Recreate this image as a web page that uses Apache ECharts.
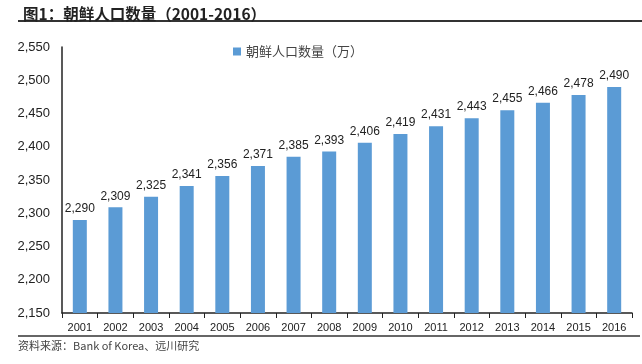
<!DOCTYPE html>
<html><head><meta charset="utf-8">
<script src="https://cdn.jsdelivr.net/npm/echarts@6/dist/echarts.min.js"></script>
<style>html,body{margin:0;padding:0;background:#fff}#c{width:642px;height:364px}</style>
</head><body><div id="c"></div>
<script>
const categories = ['2001','2002','2003','2004','2005','2006','2007','2008','2009','2010','2011','2012','2013','2014','2015','2016'];
const population = [2290,2309,2325,2341,2356,2371,2385,2393,2406,2419,2431,2443,2455,2466,2478,2490];
const seriesName = '朝鲜人口数量（万）';
const titleText = '图1：朝鲜人口数量（2001-2016）';
const sourceText = '资料来源：Bank of Korea、远川研究';

const chart = echarts.init(document.getElementById('c'));
const fmt = v => v.toLocaleString('en-US');
chart.setOption({
  animation:false,
  textStyle:{fontFamily:'"Noto Sans CJK SC", "Liberation Sans", sans-serif'},
  title:{text:titleText,left:18,top:1,textStyle:{fontSize:15.5,fontWeight:'bold',color:'#222'}},
  graphic:[
    {type:'line',shape:{x1:18,y1:21,x2:642,y2:21},style:{stroke:'#333',lineWidth:2}},
    {type:'line',shape:{x1:18,y1:336,x2:640,y2:336},style:{stroke:'#333',lineWidth:1.5}},
    {type:'text',left:18,top:340,style:{text:sourceText,fontSize:11,fill:'#444',fontFamily:'"Noto Sans CJK SC", sans-serif'}}
  ],
  legend:{data:[seriesName],left:228,top:40,itemWidth:8,itemHeight:8,icon:'rect',textStyle:{fontSize:13,color:'#444'}},
  grid:{left:62,right:10,top:47,bottom:51},
  xAxis:{type:'category',data:categories,
    axisLine:{lineStyle:{color:'#222',width:1.5}},
    axisTick:{show:true,length:5,lineStyle:{color:'#222'}},
    axisLabel:{fontSize:11,color:'#222',margin:9,fontFamily:'"Liberation Sans", sans-serif'}},
  yAxis:{type:'value',min:2150,max:2550,interval:50,
    axisLine:{show:true,lineStyle:{color:'#222',width:1.5}},
    axisTick:{show:false},splitLine:{show:false},
    axisLabel:{fontSize:13,color:'#222',margin:12,formatter:fmt,fontFamily:'"Liberation Sans", sans-serif'}},
  series:[{name:seriesName,type:'bar',data:population,barWidth:14,
    itemStyle:{color:'#5b9bd5'},
    label:{show:true,position:'top',fontSize:12,color:'#222',formatter:p=>fmt(p.value),fontFamily:'"Liberation Sans", sans-serif'}}]
});
</script></body></html>
